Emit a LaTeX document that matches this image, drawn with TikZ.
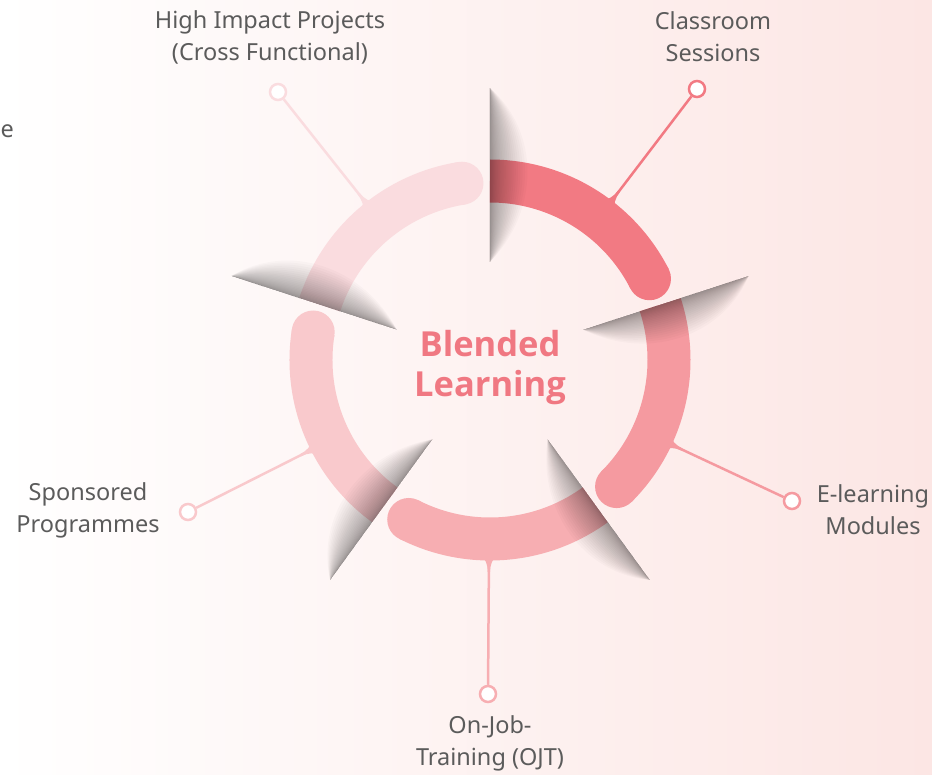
\documentclass[tikz,border=0pt]{standalone}
\usepackage{fontspec}
\setmainfont{Noto Sans}
\newfontfamily\titlefont{Open Sans}
\definecolor{segA}{HTML}{F27A83}
\definecolor{segB}{HTML}{F59AA0}
\definecolor{segC}{HTML}{F7AEB2}
\definecolor{segD}{HTML}{F9C9CC}
\definecolor{segE}{HTML}{FADCDF}
\definecolor{titlecol}{HTML}{F07882}
\definecolor{txt}{HTML}{5B5B5B}
\definecolor{bgpink}{HTML}{FCE6E4}
\begin{document}
\begin{tikzpicture}[x=1pt,y=1pt,
  seg/.style={line width=43pt, line cap=butt},
  conn/.style={line width=2.5pt},
  dot/.style={circle, draw, line width=2.5pt, fill=white, minimum size=16pt, inner sep=0pt},
  lbl/.style={text=txt, align=center, font=\fontsize{23.5}{32}\selectfont, inner sep=0pt},
  ttl/.style={text=titlecol, align=center, font=\titlefont\bfseries\fontsize{34.5}{40}\selectfont, inner sep=0pt}]
\useasboundingbox (-490,-414) rectangle (442,360);
% background
\shade[left color=white, middle color=white, right color=bgpink] (-490,-414) rectangle (442,360);
% ring segments
\foreach \s/\e/\c in {90/27/segA, 18/-45/segB, -54/-117/segC, -126/-189/segD, 162/99/segE}{
  \draw[seg, \c] (\s:179) arc[start angle=\s, end angle=\e, radius=179];
  \fill[\c] (\e:179) circle (21.5);
}
% blade shadows
\foreach \p in {90,18,-54,-126,162}{
  \begin{scope}[rotate=\p]
    \foreach \k in {1,...,24}{
      \pgfmathsetmacro\w{50*(\k/24)^1.6}
      \fill[black, opacity=0.019] (98,0) -- (272,0) .. controls (228,-\w) and (150,-\w) .. (98,0);
    }
  \end{scope}
}
% connectors
\foreach \i/\a/\x/\y/\c in {1/52.6/207/271/segA, 2/-25/302/-141/segB, 3/-90.3/-2/-334/segC, 4/-153.3/-302/-152/segD, 5/128.3/-212/268/segE}{
  \coordinate (b\i) at (\a:199);
  \begin{scope}[rotate=\a]
    \fill[\c] (194,-10) .. controls (199,-3) and (204,-1.25) .. (212,-1.25) -- (212,1.25) .. controls (204,1.25) and (199,3) .. (194,10) -- cycle;
  \end{scope}
  \node[dot, draw=\c] (c\i) at (\x,\y) {};
  \draw[conn, \c] (b\i) -- (c\i);
}
% labels
\node[lbl] (l5) at (-220,323) {High Impact Projects\\(Cross Functional)};
\node[lbl] (l1) at (223,323) {Classroom\\Sessions};
\node[lbl] (l2) at (383,-150) {E-learning\\Modules};
\node[lbl] (l3) at (0,-383) {On-Job-\\Training (OJT)};
\node[lbl] (l4) at (-402,-150) {Sponsored\\Programmes};
\node[ttl] (t) at (0,-8) {Blended\\Learning};
\node[lbl, anchor=base west] (le) at (-489.5,222) {e};
\end{tikzpicture}
\end{document}
